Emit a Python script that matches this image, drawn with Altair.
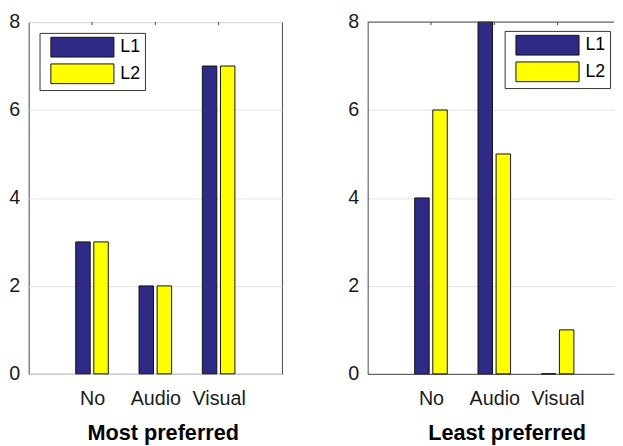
import altair as alt
import pandas as pd

categories = ["No", "Audio", "Visual"]
series = ["L1", "L2"]
most_L1 = [3, 2, 7]
most_L2 = [3, 2, 7]
least_L1 = [4, 8, 0]
least_L2 = [6, 5, 1]
panel_titles = ["Most preferred", "Least preferred"]
colors = ["#2E2A86", "#FFFF00"]
y_ticks = [0, 2, 4, 6, 8]

FONT = "Liberation Sans"
FRAME = "#444444"


def frame(l1, l2):
    rows = []
    for i, c in enumerate(categories):
        rows.append({"cat": c, "pos": i + 1, "series": series[0], "value": l1[i]})
        rows.append({"cat": c, "pos": i + 1, "series": series[1], "value": l2[i]})
    return pd.DataFrame(rows)


label_expr = " : ".join(
    f"datum.value == {i + 1} ? '{c}'" for i, c in enumerate(categories)
) + " : ''"

ticks_df = pd.DataFrame({"pos": list(range(1, len(categories) + 1))})
top_df = pd.DataFrame({"top": [8]})


def panel(df, title, width, xmax, title_x, legend_x, legend_y, framed):
    xscale = alt.Scale(domain=[0, xmax], nice=False, zero=False)
    yscale = alt.Scale(domain=[0, 8], nice=False)
    base = alt.Chart(df).transform_calculate(
        off="datum.series == 'L1' ? -0.1429 : 0.1429"
    ).transform_calculate(
        x1="datum.pos + datum.off - 0.1143",
        x2="datum.pos + datum.off + 0.1143",
    )
    bars = base.mark_bar(stroke="#111111", strokeWidth=1, opacity=1).encode(
        x=alt.X(
            "x1:Q",
            scale=xscale,
            axis=alt.Axis(
                values=[1, 2, 3],
                labelExpr=label_expr,
                title=title,
                grid=False,
                tickSize=0,
                labelPadding=15,
                domain=not framed,
                domainColor=FRAME,
                titleX=title_x,
                titlePadding=15,
            ),
        ),
        x2="x2:Q",
        y=alt.Y(
            "value:Q",
            scale=yscale,
            axis=alt.Axis(
                values=y_ticks,
                grid=True,
                gridColor="#e2e2e2",
                tickSize=0,
                labelPadding=9,
                domain=not framed,
                domainColor=FRAME,
                title=None,
            ),
        ),
        y2=alt.datum(0),
        color=alt.Color(
            "series:N",
            scale=alt.Scale(domain=series, range=colors),
            legend=alt.Legend(
                orient="none",
                legendX=legend_x,
                legendY=legend_y,
                title=None,
                symbolType="M-3.2,-1H3.2V1H-3.2Z",
                symbolSize=400,
                symbolOpacity=1,
                symbolStrokeColor="#111111",
                symbolStrokeWidth=1,
                labelFontSize=18,
                labelFont=FONT,
                labelColor="black",
                strokeColor="#333333",
                fillColor="white",
                padding=4,
                rowPadding=2,
                symbolOffset=29,
                labelOffset=28,
            ),
        ),
    )
    top_ticks = alt.Chart(ticks_df).mark_rule(color=FRAME).encode(
        x=alt.X("pos:Q", scale=xscale),
        y=alt.datum(8),
        y2=alt.datum(7.93),
    )
    layers = [bars, top_ticks]
    if not framed:
        top_line = alt.Chart(top_df).mark_rule(color=FRAME).encode(
            y=alt.Y("top:Q", scale=yscale)
        )
        layers.append(top_line)
    view = alt.ViewBackground(
        stroke=FRAME if framed else "transparent",
        strokeWidth=1,
    )
    return alt.layer(*layers).properties(width=width, height=357, view=view)


left = panel(frame(most_L1, most_L2), panel_titles[0], 257, 4.0, 136, 11, 11, True)
right = panel(frame(least_L1, least_L2), panel_titles[1], 250, 250 / 64.25, 141, 139, 9, False)

chart = alt.hconcat(left, right, spacing=65).resolve_scale(
    color="independent"
).resolve_legend(
    color="independent"
).properties(
    padding={"left": 0, "top": 0, "right": 0, "bottom": 0},
    background="white",
).configure_axis(
    labelFont=FONT,
    labelFontSize=20,
    labelColor="#1a1a1a",
    titleFont=FONT,
    titleFontSize=22,
    titleFontWeight="bold",
    titleColor="black",
)

chart.save("out.html", embed_options={"renderer": "svg", "actions": False})
